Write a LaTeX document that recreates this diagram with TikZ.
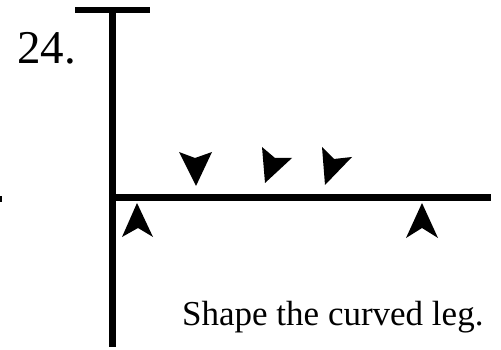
\documentclass[tikz,border=0pt]{standalone}
\usepackage{fontspec}
\setmainfont{Liberation Serif}
\begin{document}
\begin{tikzpicture}[x=1pt,y=-1pt,
  bar/.style={line width=6.5pt},
  head/.style={fill=black,draw=none}]
\useasboundingbox (0,0) rectangle (501,350);
% lines
\coordinate (tl) at (75,10);
\coordinate (tr) at (150,10);
\coordinate (vt) at (112.5,10);
\coordinate (vb) at (112.5,347);
\coordinate (hl) at (112.5,197.5);
\coordinate (hr) at (491,197.5);
\draw[bar] (tl) -- (tr);
\draw[bar] (vt) -- (vb);
\draw[bar] (hl) -- (hr);
\fill (0,196) rectangle (2,202);
% arrowheads
\fill[head] (179,152) -- (195,158) -- (212,152) -- (196,186) -- cycle;
\fill[head] (262,147) -- (275,158) -- (292,158) -- (265,183) -- cycle;
\fill[head] (322,147) -- (334,159) -- (352,157) -- (325,185) -- cycle;
\fill[head] (137,203) -- (153,237) -- (138,228) -- (122,237) -- cycle;
\fill[head] (422,203) -- (438,238) -- (422,228) -- (406,238) -- cycle;
% texts
\node[anchor=base west,inner sep=0pt,font=\fontsize{47}{50}\selectfont] (num) at (17,64) {24.};
\node[anchor=base west,inner sep=0pt,font=\fontsize{35}{40}\selectfont] (cap) at (182,325) {Shape the curved leg.};
\end{tikzpicture}
\end{document}
